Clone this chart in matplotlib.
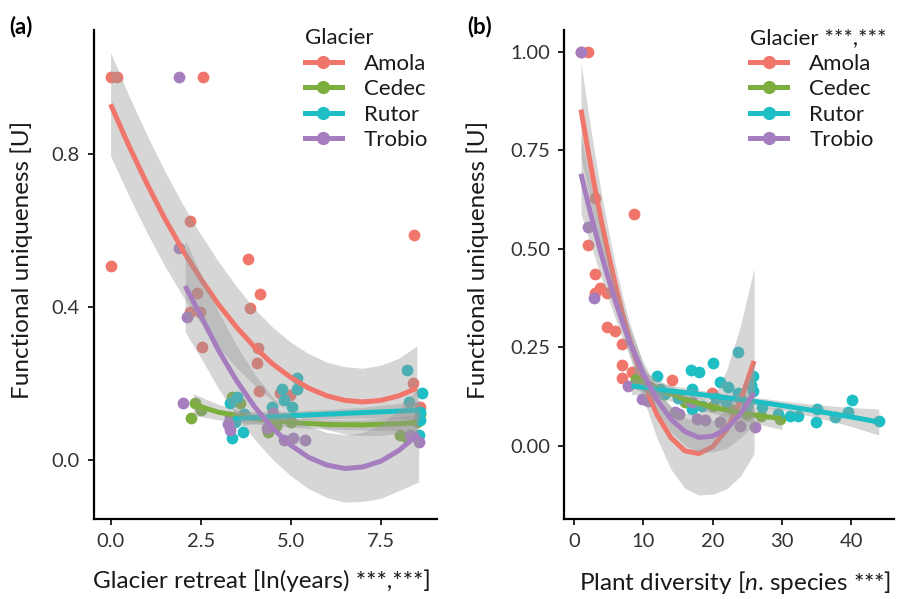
import matplotlib.pyplot as plt
from matplotlib.lines import Line2D
import numpy as np

plt.rcParams['font.family'] = ['Lato', 'DejaVu Sans']
plt.rcParams['mathtext.fontset'] = 'custom'
plt.rcParams['mathtext.it'] = 'Lato:italic'
plt.rcParams['mathtext.rm'] = 'Lato'

glaciers = ['Amola', 'Cedec', 'Rutor', 'Trobio']
colors = ['#F0766C', '#7CAE3E', '#1DBFC4', '#A67EBF']

# ---- panel (a): glacier retreat, raw points ----
amola_a_x = [0.0, 0.18, 2.56, 2.21, 8.43, 3.81, 0.0, 4.15, 2.39, 3.87, 2.48, 2.2,
             2.53, 4.1, 4.07, 4.12, 4.7, 4.98, 8.39, 8.59]
amola_a_y = [1.0, 1.0, 1.0, 0.626, 0.587, 0.525, 0.507, 0.433, 0.436, 0.397, 0.388, 0.388,
             0.296, 0.292, 0.254, 0.18, 0.174, 0.17, 0.202, 0.139]
cedec_a_x = [2.34, 2.23, 2.5, 3.36, 3.6, 4.38, 4.6, 5.0, 8.04, 8.2, 8.5, 8.6]
cedec_a_y = [0.148, 0.11, 0.13, 0.164, 0.15, 0.074, 0.09, 0.1, 0.065, 0.06, 0.1, 0.12]
rutor_a_x = [3.36, 3.68, 3.31, 3.5, 3.45, 3.7, 4.47, 4.75, 5.17, 5.17, 4.8, 5.03,
             8.24, 8.64, 8.59, 8.27, 8.57, 8.59]
rutor_a_y = [0.057, 0.074, 0.148, 0.166, 0.1, 0.12, 0.139, 0.187, 0.214, 0.187, 0.157, 0.139,
             0.235, 0.174, 0.105, 0.152, 0.065, 0.126]
trobio_a_x = [1.9, 1.9, 2.11, 2.02, 3.31, 3.31, 4.33, 4.52, 4.8, 5.07, 5.4, 8.31, 8.55, 3.25]
trobio_a_y = [1.0, 0.553, 0.375, 0.15, 0.078, 0.113, 0.083, 0.122, 0.052, 0.057, 0.052,
              0.065, 0.048, 0.095]

# ---- panel (a): fitted curves ----
amola_a_fx = [0, 0.5, 1, 1.5, 2, 2.5, 3, 3.5, 4, 4.5, 5, 5.5, 6, 6.5, 7, 7.5, 8, 8.5]
amola_a_fit = [0.930, 0.823, 0.724, 0.632, 0.549, 0.474, 0.406, 0.347, 0.295, 0.251, 0.216,
               0.188, 0.168, 0.156, 0.152, 0.156, 0.168, 0.188]
amola_a_ci = [0.135, 0.131, 0.128, 0.124, 0.12, 0.116, 0.112, 0.106, 0.10, 0.096, 0.092,
              0.09, 0.088, 0.088, 0.088, 0.092, 0.098, 0.11]
cedec_a_fx = [2.3, 3, 4, 5, 6, 7, 8, 8.5]
cedec_a_fit = [0.145, 0.125, 0.108, 0.098, 0.093, 0.092, 0.095, 0.098]
cedec_a_ci = [0.028, 0.02, 0.014, 0.012, 0.012, 0.013, 0.018, 0.022]
rutor_a_fx = [3.4, 4, 5, 6, 7, 8, 8.6]
rutor_a_fit = [0.108, 0.111, 0.116, 0.120, 0.124, 0.128, 0.131]
rutor_a_ci = [0.022, 0.016, 0.012, 0.012, 0.014, 0.02, 0.025]
trobio_a_fx = [2.07, 2.5, 3, 3.5, 4, 4.5, 5, 5.5, 6, 6.5, 7, 7.5, 8, 8.55]
trobio_a_fit = [0.455, 0.378, 0.286, 0.207, 0.139, 0.083, 0.039, 0.007, -0.013, -0.022,
                -0.018, -0.003, 0.025, 0.068]
trobio_a_ci = [0.12, 0.11, 0.1, 0.092, 0.085, 0.082, 0.08, 0.082, 0.085, 0.088, 0.09,
               0.097, 0.105, 0.125]

# ---- panel (b): plant diversity, raw points ----
amola_b_x = [1, 2, 3.03, 8.7, 2.07, 3.03, 3.76, 3.03, 4.72, 4.72, 5.92, 6.9, 6.9, 6.9,
             8.3, 14.1, 19.9]
amola_b_y = [1.0, 1.0, 0.629, 0.589, 0.509, 0.435, 0.401, 0.388, 0.388, 0.3, 0.291, 0.257,
             0.205, 0.173, 0.186, 0.167, 0.135]
cedec_b_x = [9.0, 11.0, 13.0, 16.0, 20.0, 23.0, 25.0, 27.0, 29.8]
cedec_b_y = [0.17, 0.15, 0.13, 0.11, 0.1, 0.09, 0.08, 0.075, 0.068]
rutor_b_x = [11.95, 12.4, 13.0, 15.0, 16.9, 17.0, 17.0, 18.0, 18.5, 20.1, 20.5, 21.1, 22.0,
             22.3, 23.7, 23.7, 24.0, 25.0, 25.6, 25.9, 25.9, 27.1, 29.5, 31.2, 32.4, 35.1,
             35.0, 37.7, 39.5, 40.1, 44.1]
rutor_b_y = [0.176, 0.144, 0.13, 0.12, 0.192, 0.145, 0.093, 0.186, 0.1, 0.211, 0.12, 0.162,
             0.11, 0.148, 0.239, 0.135, 0.12, 0.1, 0.155, 0.177, 0.14, 0.097, 0.08, 0.076,
             0.076, 0.093, 0.061, 0.072, 0.085, 0.117, 0.063]
trobio_b_x = [1, 1.98, 2.93, 7.85, 9.8, 10.7, 14.6, 15.2, 17.0, 17.7, 18.9, 21.1, 24.0, 26.2]
trobio_b_y = [1.0, 0.555, 0.376, 0.152, 0.118, 0.114, 0.085, 0.08, 0.11, 0.068, 0.065,
              0.059, 0.051, 0.047]

# ---- panel (b): fitted curves ----
amola_b_fx = [1, 2, 3, 4, 5, 6, 7, 8, 10, 12, 14, 16, 18, 20, 22, 24, 26]
amola_b_fit = [0.853, 0.751, 0.655, 0.565, 0.482, 0.406, 0.335, 0.271, 0.162, 0.078, 0.020,
               -0.013, -0.020, -0.003, 0.040, 0.112, 0.215]
amola_b_ci = [0.12, 0.10, 0.085, 0.07, 0.06, 0.05, 0.045, 0.042, 0.042, 0.06, 0.08, 0.095,
              0.105, 0.12, 0.15, 0.19, 0.235]
cedec_b_fx = [8.6, 12, 16, 20, 24, 28, 30]
cedec_b_fit = [0.175, 0.146, 0.118, 0.098, 0.083, 0.073, 0.069]
cedec_b_ci = [0.03, 0.022, 0.016, 0.015, 0.018, 0.024, 0.028]
rutor_b_fx = [8.3, 12, 15, 20, 25, 30, 35, 40, 44]
rutor_b_fit = [0.152, 0.143, 0.137, 0.126, 0.115, 0.102, 0.088, 0.073, 0.06]
rutor_b_ci = [0.022, 0.016, 0.013, 0.01, 0.01, 0.012, 0.016, 0.024, 0.033]
trobio_b_fx = [1, 2, 3, 4, 5, 6, 7, 8, 10, 12, 14, 16, 18, 20, 22, 24, 26]
trobio_b_fit = [0.690, 0.617, 0.548, 0.482, 0.422, 0.365, 0.313, 0.265, 0.182, 0.116, 0.067,
                0.036, 0.021, 0.024, 0.043, 0.080, 0.134]
trobio_b_ci = [0.10, 0.085, 0.07, 0.06, 0.05, 0.045, 0.04, 0.035, 0.03, 0.03, 0.032, 0.035,
               0.037, 0.04, 0.05, 0.06, 0.08]

pts_a = [(amola_a_x, amola_a_y), (cedec_a_x, cedec_a_y), (rutor_a_x, rutor_a_y), (trobio_a_x, trobio_a_y)]
fits_a = [(amola_a_fx, amola_a_fit, amola_a_ci), (cedec_a_fx, cedec_a_fit, cedec_a_ci),
          (rutor_a_fx, rutor_a_fit, rutor_a_ci), (trobio_a_fx, trobio_a_fit, trobio_a_ci)]
pts_b = [(amola_b_x, amola_b_y), (cedec_b_x, cedec_b_y), (rutor_b_x, rutor_b_y), (trobio_b_x, trobio_b_y)]
fits_b = [(amola_b_fx, amola_b_fit, amola_b_ci), (cedec_b_fx, cedec_b_fit, cedec_b_ci),
          (rutor_b_fx, rutor_b_fit, rutor_b_ci), (trobio_b_fx, trobio_b_fit, trobio_b_ci)]

fig = plt.figure(figsize=(8.98, 5.99), dpi=100)
ax1 = fig.add_axes([94/898, 1-519/599, 343/898, 489/599])
ax2 = fig.add_axes([564/898, 1-519/599, 330/898, 489/599])


def draw(ax, pts, fits):
    for (x, y), c in zip(pts, colors):
        ax.scatter(x, y, s=72, color=c, linewidths=0, zorder=2)
    z = 3
    for (fx, fy, ci), c in zip(fits, colors):
        fx = np.array(fx); fy = np.array(fy); ci = np.array(ci)
        ax.fill_between(fx, fy - ci, fy + ci, color='#999999', alpha=0.4, linewidth=0, zorder=z)
        ax.plot(fx, fy, color=c, lw=3.6, zorder=z + 0.5, solid_capstyle='butt',
                solid_joinstyle='round')
        z += 1
    for s in ['top', 'right']:
        ax.spines[s].set_visible(False)
    for s in ['left', 'bottom']:
        ax.spines[s].set_linewidth(1.6)
        ax.spines[s].set_color('black')
    ax.tick_params(direction='out', length=4, width=1.2, color='black',
                   labelsize=14.5, labelcolor='#333333', pad=6)


draw(ax1, pts_a, fits_a)
draw(ax2, pts_b, fits_b)

ax1.set_xlim(-0.46, 9.06)
ax1.set_ylim(-0.154, 1.124)
ax1.set_xticks([0, 2.5, 5, 7.5])
ax1.set_xticklabels(['0.0', '2.5', '5.0', '7.5'])
ax1.set_yticks([0, 0.4, 0.8])
ax1.set_yticklabels(['0.0', '0.4', '0.8'])

ax2.set_xlim(-1.45, 46.2)
ax2.set_ylim(-0.186, 1.055)
ax2.set_xticks([0, 10, 20, 30, 40])
ax2.set_yticks([0, 0.25, 0.5, 0.75, 1.0])
ax2.set_yticklabels(['0.00', '0.25', '0.50', '0.75', '1.00'])

lab = dict(fontsize=17.5, color='#1a1a1a')
ax1.set_ylabel('Functional uniqueness [U]', **lab)
ax1.set_xlabel('Glacier retreat [ln(years) ***,***]', **lab)
ax2.set_ylabel('Functional uniqueness [U]', **lab)
ax2.set_xlabel('Plant diversity [$n$. species ***]', **lab)
ax1.yaxis.set_label_coords(-0.178, 0.53)
ax2.yaxis.set_label_coords(-0.227, 0.53)
ax1.xaxis.set_label_coords(0.49, -0.103)
ax2.xaxis.set_label_coords(0.517, -0.103)

fig.text(9/898, 1-27/599, '(a)', fontsize=16, fontweight='bold', va='center', ha='left')
fig.text(467/898, 1-27/599, '(b)', fontsize=16, fontweight='bold', va='center', ha='left')

handles = [Line2D([], [], color=c, lw=3.6, marker='o', markersize=8.5) for c in colors]
for ax, title, anchor in [(ax1, 'Glacier', (0.615, 1.004)), (ax2, 'Glacier ***,***', (0.565, 1.004))]:
    leg = ax.legend(handles, glaciers, title=title, loc='upper left', bbox_to_anchor=anchor,
                    frameon=False, fontsize=16, title_fontsize=16, handlelength=1.65,
                    handletextpad=1.0, labelspacing=0.25, borderpad=0, borderaxespad=0,
                    alignment='left')
    leg.get_title().set_color('#1a1a1a')
    for t in leg.get_texts():
        t.set_color('#1a1a1a')

fig.savefig('out.png', dpi=100)
